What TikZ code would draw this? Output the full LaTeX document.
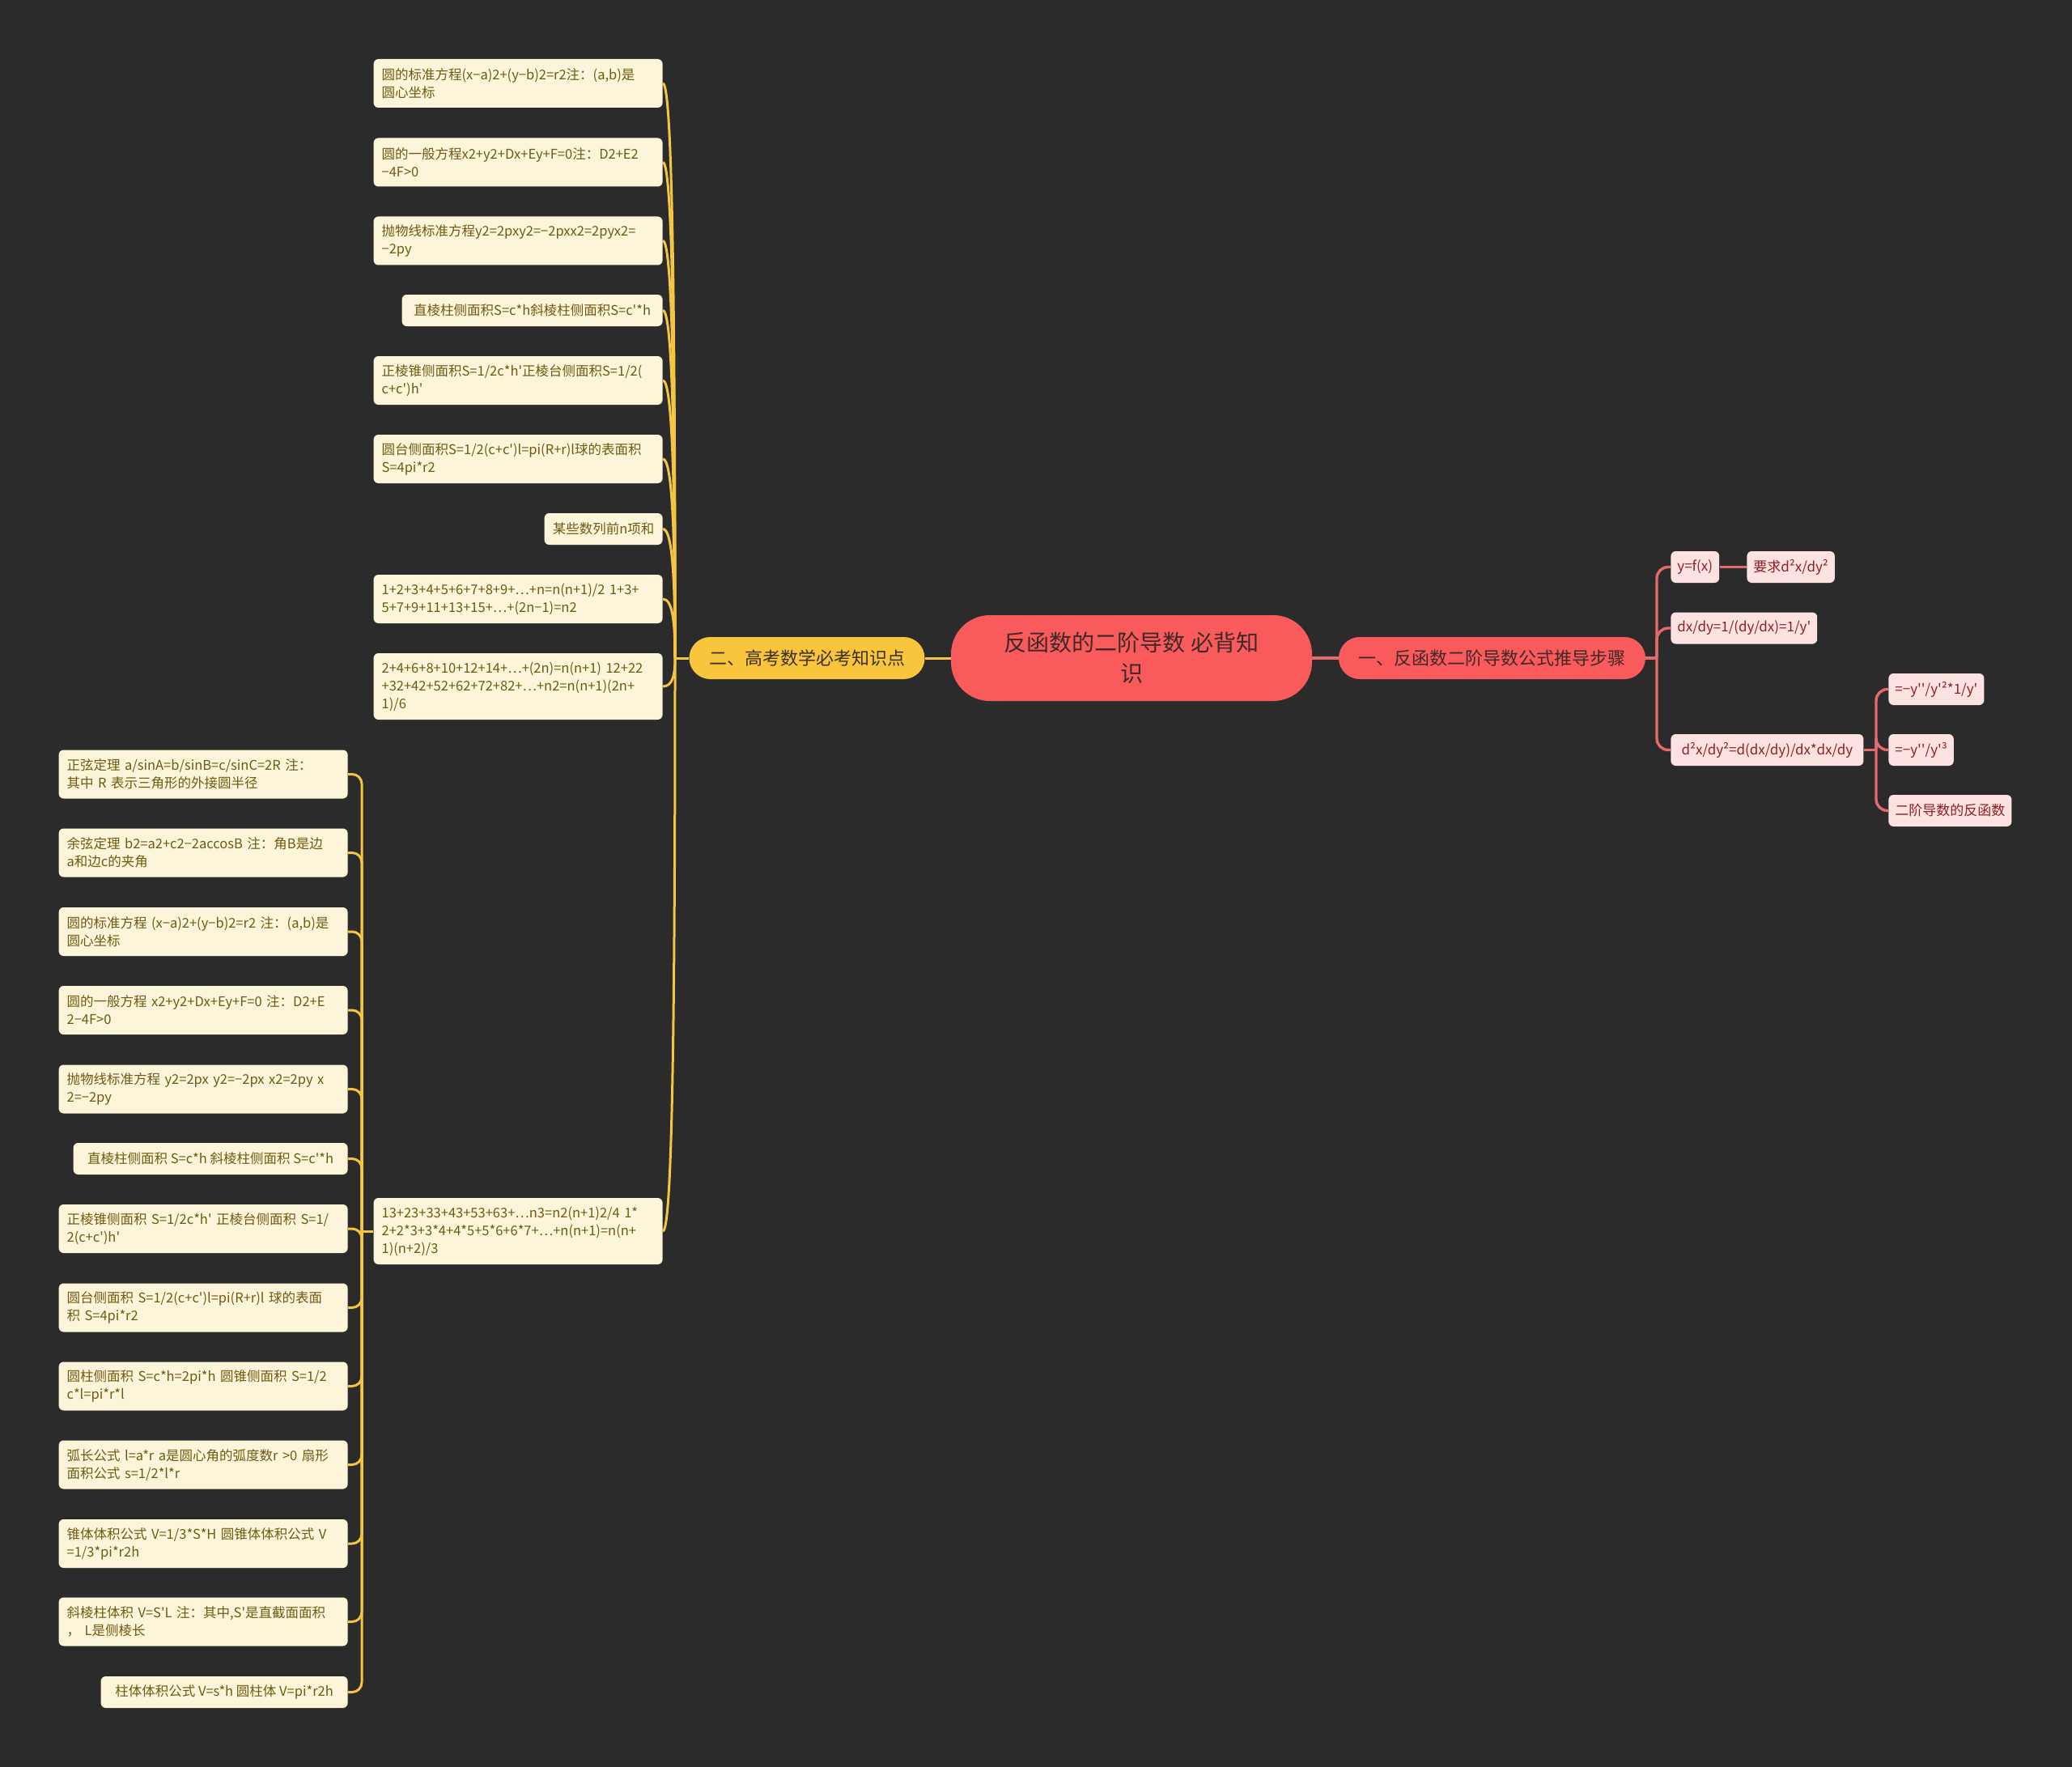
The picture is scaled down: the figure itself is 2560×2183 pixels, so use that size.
\documentclass[tikz,border=0pt]{standalone}
\usepackage{fontspec}
\newfontfamily\cjk{Noto Sans CJK SC}
\definecolor{cBg}{HTML}{2B2B2B}
\definecolor{cRoot}{HTML}{F95B5D}
\definecolor{cRootText}{HTML}{3F2828}
\definecolor{cBtwo}{HTML}{F9C53C}
\definecolor{cBtwoText}{HTML}{3A3020}
\definecolor{cYline}{HTML}{F4C543}
\definecolor{cRline}{HTML}{E56A6C}
\definecolor{cLyFill}{HTML}{FDF5D9}
\definecolor{cLyText}{HTML}{6E5A12}
\definecolor{cLrFill}{HTML}{FDE2E2}
\definecolor{cLrText}{HTML}{8E1E22}
\tikzset{
  ly/.style={fill=cLyFill, text=cLyText, rounded corners=3pt, inner xsep=5pt, inner ysep=3pt,
    font=\cjk\fontsize{8.25}{11}\selectfont, align=left, anchor=east, minimum height=19.5pt},
  lytwo/.style={ly, text width=168.5pt, minimum height=30pt},
  lythree/.style={ly, text width=168.5pt, minimum height=41pt},
  lr/.style={fill=cLrFill, text=cLrText, rounded corners=3pt, inner xsep=4pt, inner ysep=3pt,
    font=\cjk\fontsize{8.5}{11}\selectfont, anchor=west, minimum height=19.5pt},
  rootbox/.style={fill=cRoot, text=cRootText, rounded corners=24pt, minimum width=223pt,
    minimum height=53pt, inner sep=0pt, font=\cjk\fontsize{14}{19}\selectfont, align=center},
  branchbox/.style={rounded corners=13pt, minimum height=26pt, inner sep=0pt,
    font=\cjk\fontsize{11}{13}\selectfont},
  yl/.style={draw=cYline, line width=1.5pt},
  rl/.style={draw=cRline, line width=1.7pt},
}
\begin{document}
\begin{tikzpicture}[x=0.5pt,y=-0.5pt]
\fill[cBg] (0,0) rectangle (2560,2183);
\useasboundingbox (0,0) rectangle (2560,2183);

% root and branches
\node[rootbox] (root) at (1398,813) {反函数的二阶导数 必背知\\识};
\node[branchbox, fill=cRoot, text=cRootText, minimum width=189.5pt] (b1) at (1843.5,813) {一、反函数二阶导数公式推导步骤};
\node[branchbox, fill=cBtwo, text=cBtwoText, minimum width=145.5pt] (b2) at (997,813) {二、高考数学必考知识点};

% right subtree
\node[lr] (r1) at (2064,700.5) {y=f(x)};
\node[lr] (r2) at (2158,700.5) {要求d²x/dy²};
\node[lr] (r3) at (2064,776) {dx/dy=1/(dy/dx)=1/y'};
\node[lr, minimum width=119pt] (r4) at (2064,926.5) {d²x/dy²=d(dx/dy)/dx*dx/dy};
\node[lr] (r5) at (2333,851.5) {=−y''/y'²*1/y'};
\node[lr] (r6) at (2333,926.5) {=−y''/y'³};
\node[lr] (r7) at (2333,1001.5) {二阶导数的反函数};

% left top group
\node[lytwo] (t1) at (819,103) {圆的标准方程(x−a)2+(y−b)2=r2注：(a,b)是\\圆心坐标};
\node[lytwo] (t2) at (819,200.5) {圆的一般方程x2+y2+Dx+Ey+F=0注：D2+E2\\−4F>0};
\node[lytwo] (t3) at (819,297.5) {抛物线标准方程y2=2pxy2=−2pxx2=2pyx2=\\−2py};
\node[ly, minimum width=161pt] (t4) at (819,383.5) {直棱柱侧面积S=c*h斜棱柱侧面积S=c'*h};
\node[lytwo] (t5) at (819,470) {正棱锥侧面积S=1/2c*h'正棱台侧面积S=1/2(\\c+c')h'};
\node[lytwo] (t6) at (819,567) {圆台侧面积S=1/2(c+c')l=pi(R+r)l球的表面积\\S=4pi*r2};
\node[ly, minimum width=73pt] (t7) at (819,653.5) {某些数列前n项和};
\node[lytwo] (t8) at (819,740) {1+2+3+4+5+6+7+8+9+…+n=n(n+1)/2 1+3+\\5+7+9+11+13+15+…+(2n−1)=n2};
\node[lythree] (t9) at (819,848) {2+4+6+8+10+12+14+…+(2n)=n(n+1) 12+22\\+32+42+52+62+72+82+…+n2=n(n+1)(2n+\\1)/6};
\node[lythree] (t10) at (819,1521) {13+23+33+43+53+63+…n3=n2(n+1)2/4 1*\\2+2*3+3*4+4*5+5*6+6*7+…+n(n+1)=n(n+\\1)(n+2)/3};

% left column
\node[lytwo] (l1) at (430,956.5) {正弦定理 a/sinA=b/sinB=c/sinC=2R 注：\\其中 R 表示三角形的外接圆半径};
\node[lytwo] (l2) at (430,1053.5) {余弦定理 b2=a2+c2−2accosB 注：角B是边\\a和边c的夹角};
\node[lytwo] (l3) at (430,1151) {圆的标准方程 (x−a)2+(y−b)2=r2 注：(a,b)是\\圆心坐标};
\node[lytwo] (l4) at (430,1248) {圆的一般方程 x2+y2+Dx+Ey+F=0 注：D2+E\\2−4F>0};
\node[lytwo] (l5) at (430,1345.5) {抛物线标准方程 y2=2px y2=−2px x2=2py x\\2=−2py};
\node[ly, minimum width=169.5pt] (l6) at (430,1431.5) {直棱柱侧面积 S=c*h 斜棱柱侧面积 S=c'*h};
\node[lytwo] (l7) at (430,1518) {正棱锥侧面积 S=1/2c*h' 正棱台侧面积 S=1/\\2(c+c')h'};
\node[lytwo] (l8) at (430,1615.5) {圆台侧面积 S=1/2(c+c')l=pi(R+r)l 球的表面\\积 S=4pi*r2};
\node[lytwo] (l9) at (430,1712.5) {圆柱侧面积 S=c*h=2pi*h 圆锥侧面积 S=1/2\\*c*l=pi*r*l};
\node[lytwo] (l10) at (430,1809.5) {弧长公式 l=a*r a是圆心角的弧度数r >0 扇形\\面积公式 s=1/2*l*r};
\node[lytwo] (l11) at (430,1907) {锥体体积公式 V=1/3*S*H 圆锥体体积公式 V\\=1/3*pi*r2h};
\node[lytwo] (l12) at (430,2003.5) {斜棱柱体积 V=S'L 注：其中,S'是直截面面积\\， L是侧棱长};
\node[ly, minimum width=152.5pt] (l13) at (430,2090.5) {柱体体积公式 V=s*h 圆柱体 V=pi*r2h};

% connectors: root
\draw[yl] (root.west) -- (b2.east);
\draw[rl] (root.east) -- (b1.west);

% yellow top group
\coordinate (J2) at (834,813);
\draw[yl] (b2.west) -- (J2);
\foreach \n/\k in {t1/-426,t2/-367.5,t3/-309,t4/-258,t5/-206,t6/-148,t7/-96,t8/-44,t9/21,t10/424}
  \draw[yl] (\n.east) .. controls +(12,0) and +(0,\k) .. (J2);

% yellow left column
\coordinate (J3) at (447,1521);
\draw[yl] (t10.west) -- (J3);
\foreach \n in {l1,l2,l3,l4,l5,l6,l7,l8,l9,l10,l11,l12,l13}
  \draw[yl, rounded corners=6pt] (\n.east) -| (J3);

% red subtree
\coordinate (T1) at (2047,813);
\draw[rl] (b1.east) -- (T1);
\foreach \n in {r1,r3,r4}
  \draw[rl, rounded corners=7pt] (T1) |- (\n.west);
\draw[rl] (r1.east) -- (r2.west);
\coordinate (T2) at (2318,926.5);
\draw[rl] (r4.east) -- (T2);
\foreach \n in {r5,r6,r7}
  \draw[rl, rounded corners=7pt] (T2) |- (\n.west);
\end{tikzpicture}
\end{document}
